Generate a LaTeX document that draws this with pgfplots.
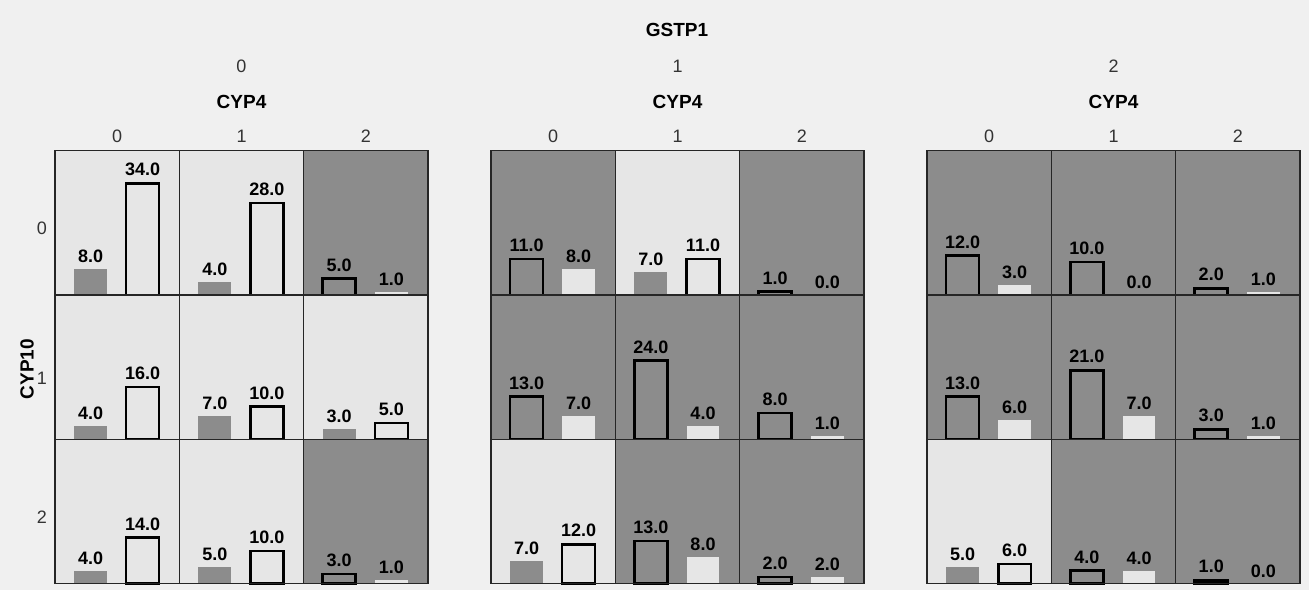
\documentclass[border=0pt]{standalone}
\usepackage{pgfplots}
\pgfplotsset{compat=1.18}
\usepackage{fontspec}
\setmainfont{Liberation Sans}
\definecolor{cdark}{HTML}{8C8C8C}
\definecolor{clight}{HTML}{E6E6E6}
\definecolor{cpage}{HTML}{F0F0F0}
\definecolor{ctick}{HTML}{333333}

\pgfplotsset{cellax/.style={
  scale only axis, width=62.17pt, height=72.17pt,
  xmin=0, xmax=1, ymin=0, ymax=44,
  xtick=\empty, ytick=\empty,
  axis line style={draw=black!85, line width=0.6pt},
  axis on top, clip=false, anchor=south west,
  ybar, bar shift=0pt, bar width=0.265,
  nodes near coords,
  /pgf/number format/fixed,
  /pgf/number format/fixed zerofill,
  /pgf/number format/precision=1,
  /pgf/number format/assume math mode=true,
  every node near coord/.append style={font=\fontsize{9}{10}\selectfont\bfseries, anchor=south, inner sep=0pt, yshift=3pt, text=black},
}}
\tikzset{
  dk/.style={fill=cdark, draw=none},
  dkO/.style={fill=cdark, draw=black, line width=1.3pt},
  lt/.style={fill=clight, draw=none},
  ltO/.style={fill=clight, draw=black, line width=1.3pt},
}
% #1 left (px), #2 bottom (px), #3 dark value, #4 light value
\newcommand{\cellD}[4]{%
  \begin{axis}[cellax, at={({#1*0.5pt},{#2*0.5pt})}, axis background/.style={fill=cdark}]
  \addplot[dkO] coordinates {(0.286,#3)};
  \addplot[lt] coordinates {(0.705,#4)};
  \end{axis}}
\newcommand{\cellL}[4]{%
  \begin{axis}[cellax, at={({#1*0.5pt},{#2*0.5pt})}, axis background/.style={fill=clight}]
  \addplot[dk] coordinates {(0.286,#3)};
  \addplot[ltO] coordinates {(0.705,#4)};
  \end{axis}}

\begin{document}
\begin{tikzpicture}
\fill[cpage] (0,0) rectangle (654.5pt,295pt);
% Panel GSTP1 = 0
\cellL{55}{295}{8}{34}
\cellL{179.33}{295}{4}{28}
\cellD{303.67}{295}{5}{1}
\cellL{55}{150.7}{4}{16}
\cellL{179.33}{150.7}{7}{10}
\cellL{303.67}{150.7}{3}{5}
\cellL{55}{6.3}{4}{14}
\cellL{179.33}{6.3}{5}{10}
\cellD{303.67}{6.3}{3}{1}
% Panel GSTP1 = 1
\cellD{491}{295}{11}{8}
\cellL{615.33}{295}{7}{11}
\cellD{739.67}{295}{1}{0}
\cellD{491}{150.7}{13}{7}
\cellD{615.33}{150.7}{24}{4}
\cellD{739.67}{150.7}{8}{1}
\cellL{491}{6.3}{7}{12}
\cellD{615.33}{6.3}{13}{8}
\cellD{739.67}{6.3}{2}{2}
% Panel GSTP1 = 2
\cellD{927}{295}{12}{3}
\cellD{1051.33}{295}{10}{0}
\cellD{1175.67}{295}{2}{1}
\cellD{927}{150.7}{13}{6}
\cellD{1051.33}{150.7}{21}{7}
\cellD{1175.67}{150.7}{3}{1}
\cellL{927}{6.3}{5}{6}
\cellD{1051.33}{6.3}{4}{4}
\cellD{1175.67}{6.3}{1}{0}
% Titles
\node[font=\fontsize{9.5}{11}\selectfont\bfseries] at (338.5pt,280pt) {GSTP1};
\foreach \cx/\lab in {120.75/0, 338.75/1, 556.75/2}{
  \node[font=\fontsize{9}{10}\selectfont, text=ctick] at (\cx pt,261.75pt) {\lab};
  \node[font=\fontsize{9.5}{11}\selectfont\bfseries] at (\cx pt,244.15pt) {CYP4};
}
\foreach \px in {27.5, 245.5, 463.5}{
  \foreach \k in {0,1,2}{
    \node[font=\fontsize{9}{10}\selectfont, text=ctick] at ({\px pt + (\k+0.5)*62.17pt},226.65pt) {\k};
  }
}
\node[font=\fontsize{9}{10}\selectfont, text=ctick] at (21pt,181pt) {0};
\node[font=\fontsize{9}{10}\selectfont, text=ctick] at (21pt,106pt) {1};
\node[font=\fontsize{9}{10}\selectfont, text=ctick] at (21pt,36.5pt) {2};
\node[font=\fontsize{9.5}{11}\selectfont\bfseries, rotate=90] at (13.5pt,110.5pt) {CYP10};
\end{tikzpicture}
\end{document}
